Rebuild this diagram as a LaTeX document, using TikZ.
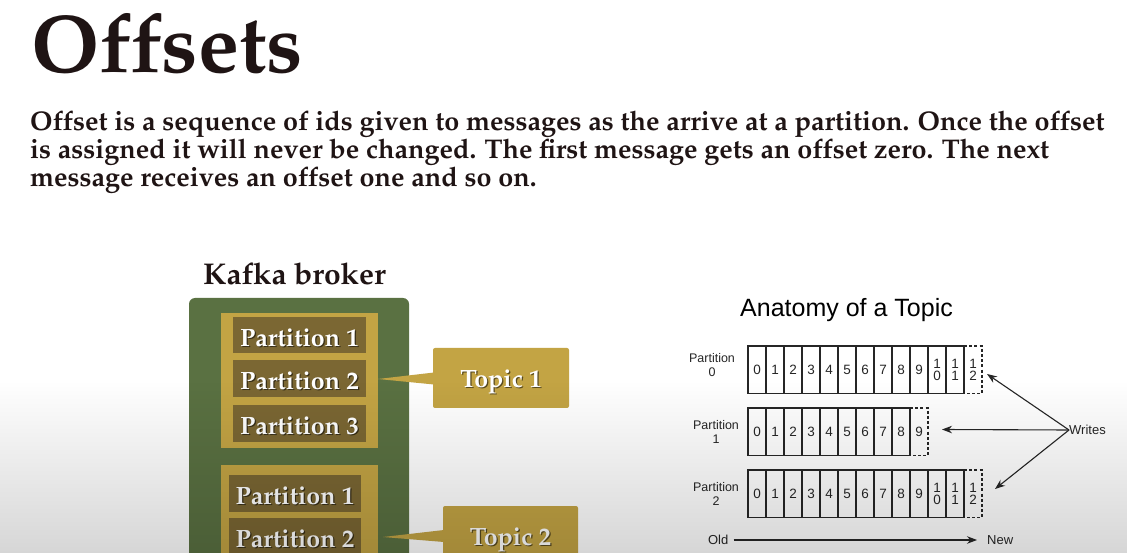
\documentclass[tikz,border=0pt]{standalone}
\usepackage[T1]{fontenc}
\usepackage{fontspec}
\setsansfont{Liberation Sans}
\usetikzlibrary{arrows.meta,fadings}
\newcommand\palb{\usefont{T1}{ppl}{b}{n}}
\definecolor{brokergreen}{HTML}{5A7142}
\definecolor{topicgold}{HTML}{C3A444}
\definecolor{partbrown}{HTML}{7B6733}
\definecolor{inkdark}{HTML}{1F1414}
\definecolor{cellink}{HTML}{262626}
\tikzfading[name=fadeup, top color=transparent!100, bottom color=transparent!0]
\tikzset{
  headtext/.style={anchor=base west, inner sep=0, text=inkdark},
  parttext/.style={anchor=base, inner sep=0, text=white, font={\fontsize{25}{25}\palb}},
  partshadow/.style={parttext, text=black, opacity=0.55},
  partbox/.style={fill=partbrown},
  goldbox/.style={fill=topicgold},
  cellline/.style={draw=cellink, line width=1.3pt},
  celldash/.style={draw=cellink, line width=1.3pt, dash pattern=on 3pt off 2.2pt},
  cellnum/.style={inner sep=0, align=center, font={\fontsize{13.5}{12.5}\sffamily}, text=cellink},
  sidelabel/.style={inner sep=0, align=center, font={\fontsize{12.5}{14}\sffamily}, text=cellink},
  arr/.style={draw=cellink, line width=1.1pt, -{Stealth[length=10pt,width=7.5pt]}},
}
\newcommand\shadowlabel[3]{%
  \node[partshadow, shift={(1.2,1.2)}] at (#2) {#3};
  \node[parttext] (#1) at (#2) {#3};}
\begin{document}
\begin{tikzpicture}[x=1pt,y=-1pt]
\useasboundingbox (0,0) rectangle (1128,553);
\fill[white] (0,0) rectangle (1128,553);
\clip (0,0) rectangle (1128,553);

% heading and paragraph
\node[headtext, font={\fontsize{82}{82}\palb}] (title) at (31,73) {Offsets};
\node[headtext, font={\fontsize{27}{28}\palb}] (para1) at (30,131) {Offset is a sequence of ids given to messages as the arrive at a partition. Once the offset};
\node[headtext, font={\fontsize{27}{28}\palb}] (para2) at (30,159) {is assigned it will never be changed. The first message gets an offset zero. The next};
\node[headtext, font={\fontsize{27}{28}\palb}] (para3) at (30,187) {message receives an offset one and so on.};

% Kafka broker
\node[headtext, font={\fontsize{30}{30}\palb}] (brokertitle) at (203,285) {Kafka broker};
\fill[brokergreen, rounded corners=6pt] (189,298) rectangle (409,600);
\fill[goldbox] (221,313) rectangle (378,448);
\fill[partbox] (233,317) rectangle (366,353);
\fill[partbox] (233,360) rectangle (366,397);
\fill[partbox] (233,405) rectangle (366,442);
\shadowlabel{ta1}{299.5,346.5}{Partition 1}
\shadowlabel{ta2}{299.5,389.5}{Partition 2}
\shadowlabel{ta3}{299.5,434.5}{Partition 3}
\fill[goldbox] (221,465) rectangle (378,600);
\fill[partbox] (229,475) rectangle (361,512);
\fill[partbox] (229,518) rectangle (361,556);
\shadowlabel{tb1}{295,504.5}{Partition 1}
\shadowlabel{tb2}{295,547.5}{Partition 2}

% topic callouts
\fill[goldbox, rounded corners=2pt] (433,348) rectangle (569,408);
\fill[goldbox] (378,379) -- (434,372.5) -- (434,384.5) -- cycle;
\shadowlabel{topic1}{501,387.5}{Topic 1}
\fill[goldbox, rounded corners=2pt] (443,506) rectangle (578,566);
\fill[goldbox] (383,537) -- (444,530) -- (444,542) -- cycle;
\shadowlabel{topic2}{510.5,545.5}{Topic 2}

% Anatomy of a topic
\node[inner sep=0, anchor=base, font={\fontsize{25}{25}\sffamily}, text=black] (anatomy) at (846.5,317) {Anatomy of a Topic};
\foreach \r/\y/\n/\lx/\ly in {0/346/12/712/365, 1/408/9/716/432, 2/470/12/716/494} {
  \draw[cellline] (748,\y) rectangle ({748+18*\n},{\y+47.5});
  \pgfmathtruncatemacro\last{\n-1}
  \foreach \i in {1,...,\last} \draw[cellline] ({748+18*\i},\y) -- ++(0,47.5);
  \draw[celldash] ({748+18*\n},\y) -- ++(18,0) -- ++(0,47.5) -- ++(-18,0);
  \foreach \i in {0,...,\n} {
    \ifnum\i<10
      \node[cellnum] (c\r-\i) at ({757+18*\i},{\y+24}) {\i};
    \else
      \pgfmathtruncatemacro\dd{\i-10}
      \node[cellnum] (c\r-\i) at ({757+18*\i},{\y+24}) {1\\[-0.5pt]\dd};
    \fi
  }
  \node[sidelabel] (plab\r) at (\lx,\ly) {Partition\\\r};
}
\node[inner sep=0, anchor=west, font={\fontsize{13}{13}\sffamily}, text=cellink] (writes) at (1069,430) {Writes};
\coordinate (w0) at (987,374);
\coordinate (w1) at (942,429.5);
\coordinate (w2) at (995,489);
\draw[arr] (writes.west) -- (w0);
\draw[arr] (writes.west) -- (w1);
\draw[arr] (writes.west) -- (w2);
\node[inner sep=0, anchor=east, font={\fontsize{13}{13}\sffamily}, text=cellink] (old) at (728.5,540) {Old};
\node[inner sep=0, anchor=west, font={\fontsize{13}{13}\sffamily}, text=cellink] (new) at (987,540) {New};
\coordinate (newtip) at (977,540);
\draw[arr] ([xshift=5pt]old.east) -- (newtip);

% screen vignette
\fill[black, opacity=0.16, path fading=fadeup] (0,380) rectangle (1128,553);
\end{tikzpicture}
\end{document}
